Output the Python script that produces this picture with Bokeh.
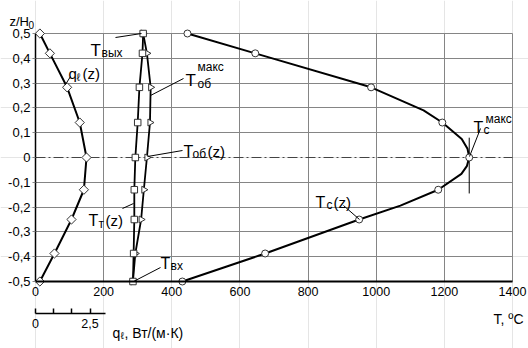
import numpy as np
from bokeh.plotting import figure
from bokeh.models import (Range1d, LinearAxis, FixedTicker, CustomJSTickFormatter,
                          Label, Grid)
from bokeh.embed import file_html
from bokeh.resources import INLINE

# ---------------- data ----------------
z = [0.5, 0.42, 0.283, 0.141, 0.0, -0.13, -0.25, -0.387, -0.5]
q_l = [0.20, 0.66, 1.45, 2.03, 2.34, 2.22, 1.65, 0.87, 0.20]          # Вт/(м·К)
T_t = [316, 314, 305, 300, 293, 290, 290, 288, 286]                     # T_т(z)
T_ob = [316, 327, 338, 336, 327, 318, 310, 293, 286]                    # T_об(z)
T_c = [446, 645, 985, 1194, 1273, 1182, 950, 674, 431]                  # T_с(z)
# extra points
z_c_line = [0.5, 0.42, 0.283, 0.19, 0.141, 0.075, 0.035, 0.0, -0.035, -0.066,
            -0.13, -0.194, -0.25, -0.387, -0.5]
T_c_line = [446, 645, 985, 1139, 1194, 1251, 1268, 1273, 1266, 1250,
            1182, 1071, 950, 674, 431]

x_ticks = [0, 200, 400, 600, 800, 1000, 1200, 1400]
y_ticks = [-0.5, -0.4, -0.3, -0.2, -0.1, 0.0, 0.1, 0.2, 0.3, 0.4, 0.5]
q_ticks = [0.0, 2.5]
q_minor = [2.5 / 3, 5.0 / 3]

FONT = "Liberation Sans"
GRID = "#858585"

# ---------------- geometry of the plotting area inside the page ----------------
W, H = 528, 348
L, T, FW, FH = 35, 33, 477, 248          # plot box: left, top, width, height (px)
kx = FW / (x_ticks[-1] - x_ticks[0])     # px per °C
ky = FH / (y_ticks[-1] - y_ticks[0])     # px per unit z/H0
kq = 21.8                                # px per unit q

x0 = x_ticks[0] - L / kx
x1 = x0 + W / kx
y1 = y_ticks[-1] + T / ky
y0 = y1 - H / ky

p = figure(width=W, height=H, min_border=0, min_border_left=0, min_border_right=0,
           min_border_top=0, min_border_bottom=0,
           x_range=Range1d(x0, x1), y_range=Range1d(y0, y1),
           x_axis_location=None, y_axis_location=None,
           output_backend="svg", toolbar_location=None,
           background_fill_color="white", border_fill_color="white")
p.outline_line_color = None
p.extra_x_ranges = {"q": Range1d(-L / kq, (W - L) / kq)}

fmt = CustomJSTickFormatter(code="""
  if (Math.abs(tick) < 1e-9) return "0";
  var s = (Math.round(tick*10)/10).toString();
  return s.replace('.', ',');
""")

# grid
xb = (x_ticks[0], x_ticks[-1])
yb = (y_ticks[0], y_ticks[-1])
p.add_layout(Grid(dimension=0, ticker=FixedTicker(ticks=x_ticks), bounds=xb, cross_bounds=yb,
                  grid_line_color=GRID, grid_line_width=1))
p.add_layout(Grid(dimension=1, ticker=FixedTicker(ticks=[t for t in y_ticks if t != 0.0]),
                  bounds=yb, cross_bounds=xb, grid_line_color=GRID, grid_line_width=1))
# dash-dot line at z = 0
p.add_layout(Grid(dimension=1, ticker=FixedTicker(ticks=[0.0]), bounds=yb, cross_bounds=xb,
                  grid_line_color="#444444", grid_line_width=1, grid_line_dash="10 3 2 3"))

# main axes
xa = LinearAxis(fixed_location=y_ticks[0], bounds=xb, ticker=FixedTicker(ticks=x_ticks))
xa.major_tick_out = 0
xa.major_tick_in = 0
xa.minor_tick_out = 0
xa.minor_tick_in = 0
xa.major_label_standoff = 5
xa.major_label_text_font = FONT
xa.major_label_text_font_size = "12.5px"
xa.major_label_text_color = "black"
xa.axis_line_color = "black"
xa.axis_line_width = 2
p.add_layout(xa, "below")

ya = LinearAxis(fixed_location=x_ticks[0], bounds=yb, ticker=FixedTicker(ticks=y_ticks),
                formatter=fmt)
ya.major_tick_out = 3
ya.major_tick_in = 0
ya.minor_tick_out = 0
ya.minor_tick_in = 0
ya.major_tick_line_color = GRID
ya.major_label_standoff = 2
ya.major_label_text_font = FONT
ya.major_label_text_font_size = "13px"
ya.major_label_text_color = "black"
ya.axis_line_color = "black"
ya.axis_line_width = 1.5
p.add_layout(ya, "left")

# secondary scale for q_ℓ
def X(px):
    return x0 + px / kx
def Y(py):
    return y1 - py / ky

qa = LinearAxis(x_range_name="q", fixed_location=Y(313), bounds=(0, 3.2),
                ticker=FixedTicker(ticks=q_ticks, minor_ticks=q_minor), formatter=fmt)
qa.major_tick_in = 5
qa.major_tick_out = 0
qa.minor_tick_in = 5
qa.minor_tick_out = 0
qa.major_tick_line_width = 1.5
qa.minor_tick_line_width = 1.5
qa.axis_line_width = 1.5
qa.axis_line_color = "black"
qa.major_label_standoff = 5
qa.major_label_text_font = FONT
qa.major_label_text_font_size = "12.5px"
qa.major_label_text_color = "black"
p.add_layout(qa, "below")

# ---------------- curves ----------------
p.line(q_l, z, x_range_name="q", line_color="black", line_width=2)
p.line(T_t, z, line_color="black", line_width=1.8)
p.line(T_ob, z, line_color="black", line_width=1.8)
p.line(T_c_line, z_c_line, line_color="black", line_width=2)

# vertical marker at T_с max
tcmax = max(T_c)
p.segment(x0=[tcmax], y0=[0.08], x1=[tcmax], y1=[-0.145], line_color="black", line_width=1)

mk = dict(fill_color="white", line_color="#333333", line_width=1)
p.scatter(q_l, z, x_range_name="q", marker="square", angle=np.pi / 4, size=6.5, **mk)
p.scatter(T_ob, z, marker="triangle", angle=-np.pi / 2, size=7, **mk)
p.scatter(T_t, z, marker="square", size=6.5, **mk)
p.scatter(T_c, z, marker="circle", size=7, **mk)

# ---------------- annotations ----------------
def lab(text, px, py, size, align="left"):
    p.add_layout(Label(x=X(px), y=Y(py), text=text, text_font=FONT,
                       text_font_size=f"{size}px", text_align=align,
                       text_baseline="alphabetic", text_color="black"))

leaders = [((115, 37), (141, 33)), ((183, 78), (150, 95)), ((70, 76), (65, 84)),
           ((182, 150), (147, 156)), ((122, 208), (133, 203)), ((160, 267), (133, 281)),
           ((480, 128), (469, 156)), ((343, 205), (359, 219))]
p.segment(x0=[X(a[0]) for a, b in leaders], y0=[Y(a[1]) for a, b in leaders],
          x1=[X(b[0]) for a, b in leaders], y1=[Y(b[1]) for a, b in leaders],
          line_color="black", line_width=1)

lab("T", 90, 50, 17); lab("вых", 101, 52, 12)
lab("T", 185, 80, 17); lab("об", 197, 83, 12); lab("макс", 197, 66, 12)
lab("q", 68, 73, 15); lab("ℓ", 76, 76, 11); lab("(z)", 82, 73, 15)
lab("T", 183, 151, 16); lab("об", 192, 153, 12); lab("(z)", 207, 151, 15)
lab("T", 88, 220, 16); lab("т", 98, 223, 12); lab("(z)", 105, 220, 15)
lab("T", 160, 263, 16); lab("вх", 170, 265, 12)
lab("T", 473, 127, 16); lab("с", 483, 129, 12); lab("макс", 485, 118, 12)
lab("T", 315, 202, 16); lab("с", 326, 204, 12); lab("(z)", 333, 202, 15)
lab("T, ºC", 523, 318, 14, align="right")
lab("z/H", 9, 21, 13); lab("0", 28, 24, 10)
lab("q", 112, 332, 14); lab("ℓ", 120, 335, 10); lab(", Вт/(м·К)", 124, 332, 14)

open("out.html", "w").write(file_html(p, INLINE))
